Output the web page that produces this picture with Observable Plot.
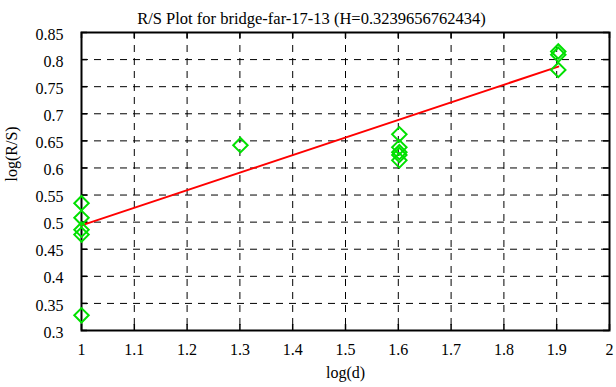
<!DOCTYPE html>
<html>
<head>
<meta charset="utf-8">
<script src="https://cdn.jsdelivr.net/npm/d3@7"></script>
<script src="https://cdn.jsdelivr.net/npm/@observablehq/plot@0.6"></script>
<style>
  html, body { margin: 0; padding: 0; background: #fff; }
  #chart svg { display: block; }
</style>
</head>
<body>
<div id="chart"></div>
<script>
const titleText = "R/S Plot for bridge-far-17-13 (H=0.3239656762434)";
const xLabel = "log(d)";
const yLabel = "log(R/S)";

// observed points: log(d), log(R/S)
const pointX = [1, 1, 1, 1, 1, 1.301, 1.602, 1.602, 1.602, 1.602, 1.602, 1.903, 1.903, 1.903];
const pointY = [0.535, 0.508, 0.486, 0.477, 0.328, 0.642, 0.662, 0.638, 0.629, 0.624, 0.614, 0.815, 0.809, 0.781];

// fitted line endpoints
const fitX = [1, 1.903];
const fitY = [0.494, 0.787];

const xTicks = [1, 1.1, 1.2, 1.3, 1.4, 1.5, 1.6, 1.7, 1.8, 1.9, 2];
const yTicks = [0.3, 0.35, 0.4, 0.45, 0.5, 0.55, 0.6, 0.65, 0.7, 0.75, 0.8, 0.85];

const points = pointX.map((x, i) => ({x, y: pointY[i]}));
const fit = fitX.map((x, i) => ({x, y: fitY[i]}));

const W = 616, H = 387;
const mL = 81, mR = 7, mT = 32, mB = 57;
const fw = W - mL - mR, fh = H - mT - mB;
const tl = 6;
const innerX = xTicks.slice(1, -1);
const innerY = yTicks.slice(1, -1);
const fmt = d => String(d);

const chart = Plot.plot({
  width: W,
  height: H,
  marginLeft: mL,
  marginRight: mR,
  marginTop: mT,
  marginBottom: mB,
  style: {fontFamily: "'Liberation Serif', 'DejaVu Serif', serif", fontSize: "16px", color: "#000", background: "#fff"},
  x: {domain: [1, 2]},
  y: {domain: [0.3, 0.85]},
  marks: [
    Plot.gridX(innerX, {stroke: "#000", strokeOpacity: 1, strokeDasharray: "7,6"}),
    Plot.gridY(innerY, {stroke: "#000", strokeOpacity: 1, strokeDasharray: "7,6"}),
    Plot.tickX(xTicks, {x: d => d, stroke: "#000", strokeWidth: 1.5, insetTop: fh - tl}),
    Plot.tickX(xTicks, {x: d => d, stroke: "#000", strokeWidth: 1.5, insetBottom: fh - tl}),
    Plot.tickY(yTicks, {y: d => d, stroke: "#000", strokeWidth: 1.5, insetRight: fw - tl}),
    Plot.tickY(yTicks, {y: d => d, stroke: "#000", strokeWidth: 1.5, insetLeft: fw - tl}),
    Plot.axisX(xTicks, {tickSize: 0, tickPadding: 13, label: null, tickFormat: fmt, fontSize: 16}),
    Plot.axisY(yTicks, {tickSize: 0, tickPadding: 18, label: null, tickFormat: fmt, fontSize: 16, dy: 2}),
    Plot.frame({stroke: "#000", strokeWidth: 2}),
    Plot.line(fit, {x: "x", y: "y", stroke: "#ff0000", strokeWidth: 2}),
    Plot.dot(points, {x: "x", y: "y", symbol: "diamond2", r: 6.5, stroke: "#00e000", strokeWidth: 2, fill: "none"}),
    Plot.text([titleText], {frameAnchor: "top", dy: -20, dx: -34, fontSize: 16.5, fill: "#000"}),
    Plot.text([xLabel], {frameAnchor: "bottom", dy: 47, fontSize: 16, fill: "#000"}),
    Plot.text([yLabel], {frameAnchor: "left", dx: -70, rotate: -90, fontSize: 16, fill: "#000"})
  ]
});
document.getElementById("chart").appendChild(chart);
</script>
</body>
</html>
